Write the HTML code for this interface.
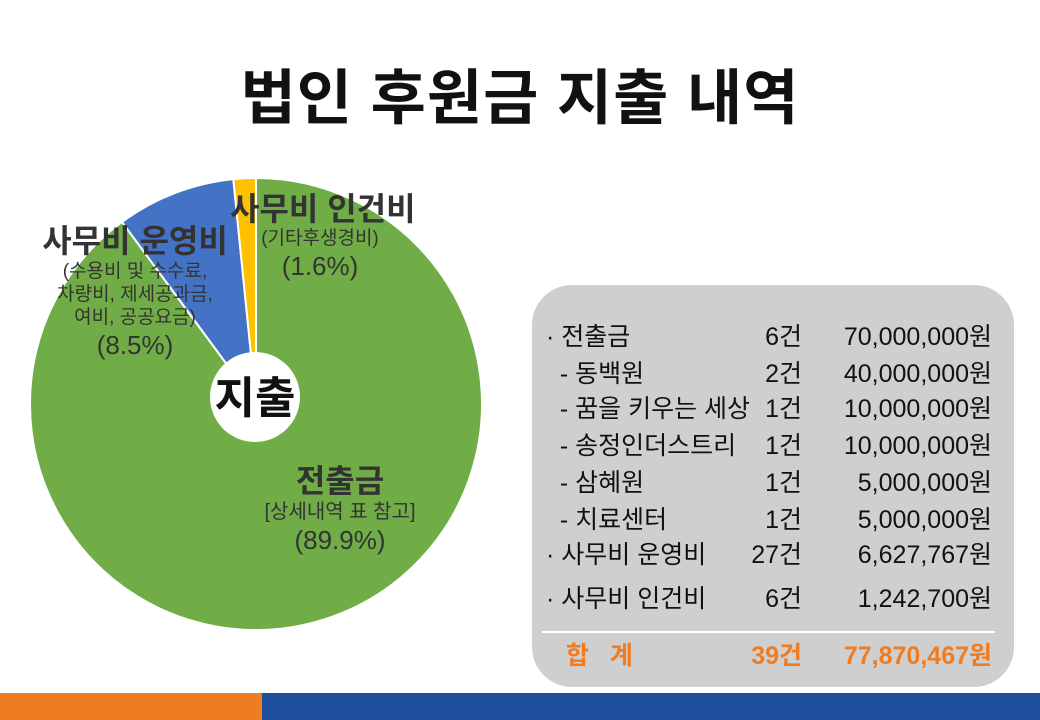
<!DOCTYPE html>
<html><head><meta charset="utf-8">
<style>
body{margin:0;width:1040px;height:720px;background:#fff;position:relative;overflow:hidden;font-family:"Liberation Sans","Noto Sans CJK KR",sans-serif;}
.t{position:absolute;white-space:nowrap;}
</style></head><body>
<div class="t" style="left:0;width:1040px;top:50px;text-align:center;font-size:60px;font-weight:bold;color:#111;letter-spacing:1px">법인 후원금 지출 내역</div>
<svg width="1040" height="720" style="position:absolute;left:0;top:0">
<g id="slices"></g>
<circle cx="255" cy="397" r="45" fill="#fff"/>
<text x="255" y="413" text-anchor="middle" font-size="44" font-weight="bold" fill="#111" font-family="Liberation Sans, Noto Sans CJK KR, sans-serif">지출</text>
</svg>
<div class="t" style="left:230px;top:190px;width:180px;text-align:center;color:#333;">
<div style="font-size:32px;font-weight:bold;line-height:38px">사무비 인건비</div>
<div style="font-size:19px;line-height:22px">(기타후생경비)</div>
<div style="font-size:26px;line-height:32px">(1.6%)</div></div>
<div class="t" style="left:30px;top:222px;width:210px;text-align:center;color:#333;">
<div style="font-size:32px;font-weight:bold;line-height:38px">사무비 운영비</div>
<div style="font-size:19px;line-height:23px">(수용비 및 수수료,<br>차량비, 제세공과금,<br>여비, 공공요금)</div>
<div style="font-size:26px;line-height:32px">(8.5%)</div></div>
<div class="t" style="left:240px;top:462px;width:200px;text-align:center;color:#333;">
<div style="font-size:32px;font-weight:bold;line-height:38px">전출금</div>
<div style="font-size:20px;line-height:24px">[상세내역 표 참고]</div>
<div style="font-size:26px;line-height:32px">(89.9%)</div></div>
<div style="position:absolute;left:532px;top:285px;width:482px;height:402px;background:#d0cfcf;border-radius:40px;"></div>
<div id="rows"></div>
<div style="position:absolute;left:542px;top:631px;width:453px;height:2px;background:#fff"></div>
<div style="position:absolute;left:0;top:693px;width:262px;height:27px;background:#f07c22"></div>
<div style="position:absolute;left:262px;top:693px;width:778px;height:27px;background:#1f4e9c"></div>
<script>
const categories=["전출금","사무비 운영비","사무비 인건비"];
const shares=[89.9,8.5,1.6];
const colors=["#70ad47","#4472c4","#ffc000"];
const cx=256,cy=404,r=226;
const g=document.getElementById('slices');
let a=0;const tot=shares.reduce((s,v)=>s+v,0);
function pt(ang){const t=ang/tot*2*Math.PI-Math.PI/2;return [cx+r*Math.cos(t),cy+r*Math.sin(t)];}
shares.forEach((v,i)=>{const p0=pt(a),p1=pt(a+v);const large=v/tot>0.5?1:0;
const p=document.createElementNS('http://www.w3.org/2000/svg','path');
p.setAttribute('d',`M${cx},${cy}L${p0[0]},${p0[1]}A${r},${r} 0 ${large} 1 ${p1[0]},${p1[1]}Z`);
p.setAttribute('fill',colors[i]);p.setAttribute('stroke','#fff');p.setAttribute('stroke-width','2');


g.appendChild(p);a+=v;});
const rowNames=["· 전출금","  - 동백원","  - 꿈을 키우는 세상","  - 송정인더스트리","  - 삼혜원","  - 치료센터","· 사무비 운영비","· 사무비 인건비"];
const rowCounts=["6건","2건","1건","1건","1건","1건","27건","6건"];
const rowAmounts=["70,000,000원","40,000,000원","10,000,000원","10,000,000원","5,000,000원","5,000,000원","6,627,767원","1,242,700원"];
const rowTops=[322,359,394,431,468,505,540,584];
const box=document.getElementById('rows');
function add(txt,l,top,w,align,col,bold,name){const d=document.createElement('div');d.className='t';d.textContent=txt;
d.style.cssText=`left:${l}px;top:${top}px;width:${w}px;text-align:${align};font-size:25px;line-height:30px;color:${col};font-weight:${bold?'bold':'normal'};white-space:pre`;


box.appendChild(d);}
rowNames.forEach((n,i)=>{add(n,546,rowTops[i],220,'left','#111',false,'row-name');
add(rowCounts[i],700,rowTops[i],102,'right','#111',false,'row-count');
add(rowAmounts[i],800,rowTops[i],192,'right','#111',false,'row-amount');});
add("합   계",566,641,120,'left','#f07c22',true,'total-label');
add("39건",700,641,102,'right','#f07c22',true,'total-count');
add("77,870,467원",800,641,192,'right','#f07c22',true,'total-amount');
</script>
</body></html>
